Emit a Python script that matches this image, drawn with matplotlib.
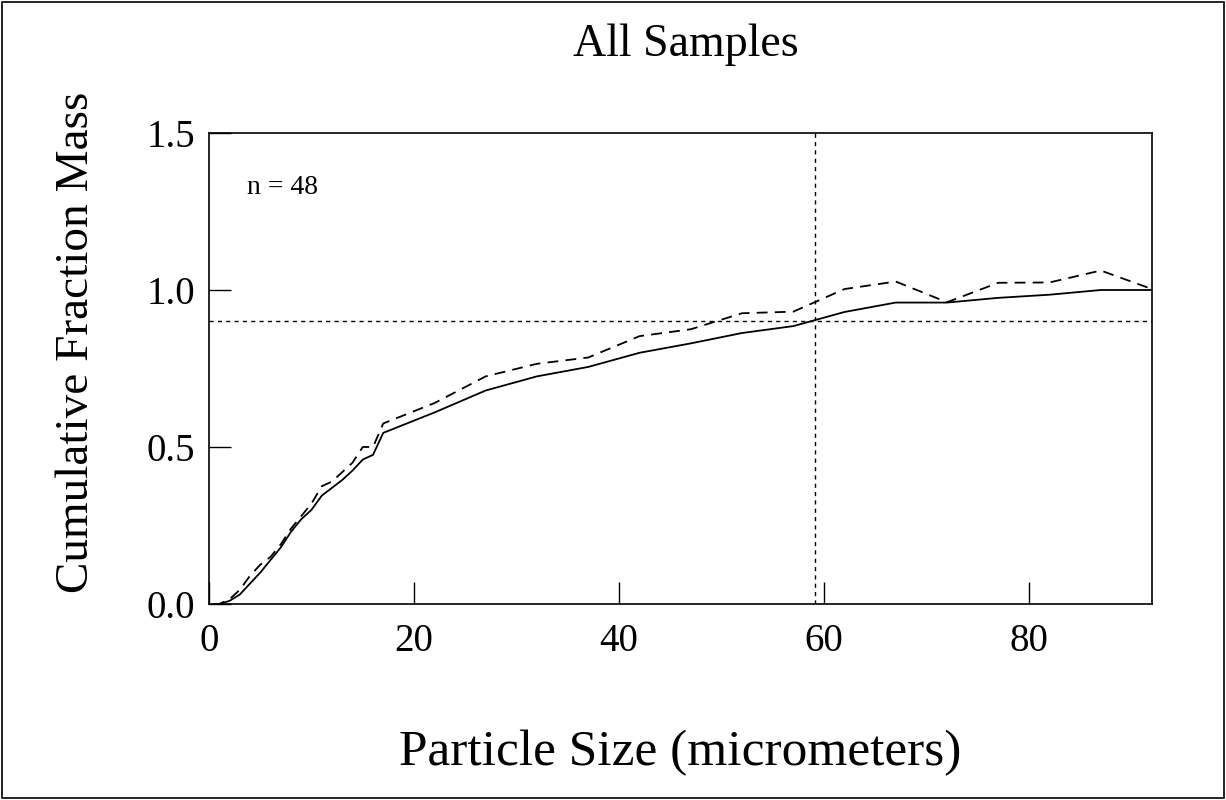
import matplotlib
matplotlib.use("Agg")
import matplotlib.pyplot as plt
from matplotlib.patches import Rectangle

plt.rcParams['font.family'] = ['Liberation Serif', 'DejaVu Serif']

size = [0.5, 1, 2, 3, 4, 5, 6, 7, 8, 9, 10, 11, 12, 13, 14, 15, 16, 17,
        22, 27, 32, 37, 42, 47, 52, 57, 62, 67, 72, 77, 82, 87, 92]
solid = [0, 0, 0.01, 0.03, 0.065, 0.10, 0.14, 0.18, 0.23, 0.27, 0.30, 0.345, 0.37, 0.395, 0.425, 0.46, 0.475, 0.545,
         0.61, 0.68, 0.725, 0.755, 0.80, 0.83, 0.863, 0.885, 0.93, 0.96, 0.96, 0.975, 0.985, 1.0, 1.0]
dashed = [0, 0, 0.015, 0.045, 0.09, 0.125, 0.15, 0.19, 0.24, 0.28, 0.32, 0.375, 0.39, 0.42, 0.45, 0.50, 0.50, 0.575,
          0.64, 0.725, 0.765, 0.785, 0.853, 0.875, 0.926, 0.931, 1.003, 1.027, 0.961, 1.023, 1.024, 1.062, 1.003]
x_mark = 59.1
y_mark = 0.9

fig = plt.figure(figsize=(12.26, 8.0), dpi=100)
fig.patches.append(Rectangle((0.002, 0.003), 0.996, 0.994, transform=fig.transFigure,
                             fill=False, edgecolor='black', linewidth=1.2))
ax = fig.add_axes([209 / 1226, 1 - 604 / 800, (1152 - 209) / 1226, (604 - 133) / 800])
ax.plot(size, solid, color='black', linewidth=1.3)
ax.plot(size, dashed, color='black', linewidth=1.3, linestyle=(0, (6, 4)))
ax.axhline(y_mark, color='black', linewidth=1, linestyle=(0, (3, 3)))
ax.axvline(x_mark, color='black', linewidth=1, linestyle=(0, (3, 3)))
ax.set_xlim(0, 92)
ax.set_ylim(0, 1.5)
ax.set_xticks([0, 20, 40, 60, 80])
ax.set_yticks([0.0, 0.5, 1.0, 1.5])
ax.set_yticklabels(['0.0', '0.5', '1.0', '1.5'])
ax.tick_params(direction='in', length=16, width=1, labelsize=28, pad=10, top=False, right=False)
ax.tick_params(axis='x', pad=14)
for s in ax.spines.values():
    s.set_linewidth(1.2)
ax.text(0.04, 0.91, 'n = 48', transform=ax.transAxes, fontsize=20, va='top')
ax.set_xlabel('Particle Size (micrometers)', fontsize=37, labelpad=50)
ax.set_ylabel('Cumulative Fraction Mass', fontsize=34)
ax.yaxis.set_label_coords(-0.118, 0.555)
fig.text(686 / 1226, 1 - 45 / 800, 'All Samples', fontsize=33, ha='center', va='center')
fig.savefig('out.png', dpi=100)
